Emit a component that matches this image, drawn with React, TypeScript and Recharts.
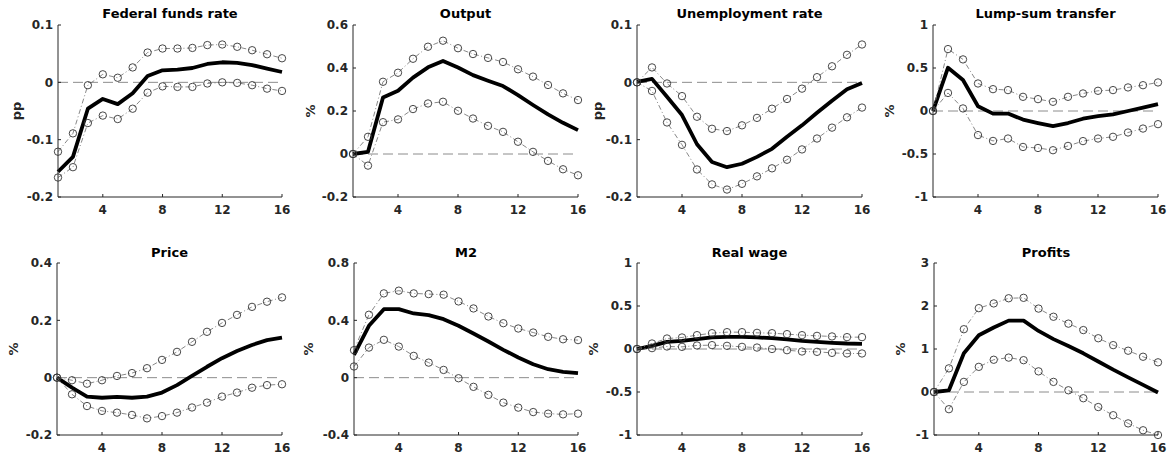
import React from 'react';
import { LineChart, Line, XAxis, YAxis, ReferenceLine } from 'recharts';

// horizon (quarters)
const quarters = [1, 2, 3, 4, 5, 6, 7, 8, 9, 10, 11, 12, 13, 14, 15, 16];
const xTicks = [4, 8, 12, 16];

// Federal funds rate
const ffrIrf = [-0.156, -0.13, -0.046, -0.029, -0.038, -0.019, 0.011, 0.021, 0.022, 0.025, 0.032, 0.035, 0.034, 0.03, 0.024, 0.018];
const ffrUpper = [-0.121, -0.089, -0.005, 0.014, 0.008, 0.026, 0.052, 0.059, 0.059, 0.06, 0.065, 0.066, 0.062, 0.056, 0.049, 0.042];
const ffrLower = [-0.166, -0.148, -0.071, -0.058, -0.064, -0.046, -0.018, -0.007, -0.008, -0.008, -0.002, 0.0, -0.001, -0.005, -0.011, -0.015];

// Output
const outIrf = [0, 0.01, 0.263, 0.294, 0.355, 0.403, 0.433, 0.402, 0.367, 0.341, 0.316, 0.274, 0.228, 0.184, 0.145, 0.111];
const outUpper = [0, 0.08, 0.336, 0.378, 0.443, 0.499, 0.527, 0.492, 0.465, 0.447, 0.428, 0.394, 0.36, 0.321, 0.282, 0.251];
const outLower = [0, -0.054, 0.148, 0.161, 0.209, 0.235, 0.243, 0.201, 0.165, 0.131, 0.103, 0.057, 0.01, -0.032, -0.071, -0.099];

// Unemployment rate
const unIrf = [0.001, 0.006, -0.025, -0.057, -0.108, -0.139, -0.148, -0.142, -0.13, -0.116, -0.095, -0.075, -0.053, -0.032, -0.012, -0.001];
const unUpper = [0, 0.026, -0.002, -0.024, -0.06, -0.081, -0.085, -0.075, -0.062, -0.046, -0.029, -0.011, 0.009, 0.028, 0.048, 0.066];
const unLower = [0, -0.015, -0.07, -0.109, -0.152, -0.178, -0.187, -0.177, -0.164, -0.15, -0.135, -0.117, -0.098, -0.079, -0.061, -0.044];

// Lump-sum transfer
const lstIrf = [0, 0.503, 0.36, 0.056, -0.03, -0.03, -0.1, -0.14, -0.177, -0.14, -0.09, -0.06, -0.04, 0, 0.04, 0.08];
const lstUpper = [0, 0.72, 0.6, 0.32, 0.254, 0.243, 0.165, 0.138, 0.107, 0.165, 0.204, 0.235, 0.243, 0.274, 0.3, 0.332];
const lstLower = [0, 0.21, 0.03, -0.28, -0.348, -0.32, -0.418, -0.43, -0.456, -0.406, -0.35, -0.32, -0.3, -0.25, -0.204, -0.153];

// Price
const priceIrf = [0, -0.035, -0.066, -0.07, -0.067, -0.07, -0.066, -0.052, -0.026, 0.006, 0.038, 0.068, 0.093, 0.114, 0.131, 0.14];
const priceUpper = [0, -0.009, -0.021, -0.009, 0.006, 0.016, 0.033, 0.062, 0.09, 0.125, 0.16, 0.191, 0.219, 0.247, 0.265, 0.28];
const priceLower = [0, -0.058, -0.099, -0.116, -0.122, -0.13, -0.142, -0.134, -0.122, -0.104, -0.087, -0.066, -0.052, -0.035, -0.026, -0.023];

// M2
const m2Irf = [0.159, 0.362, 0.478, 0.478, 0.448, 0.436, 0.408, 0.362, 0.308, 0.252, 0.194, 0.141, 0.094, 0.059, 0.041, 0.031];
const m2Upper = [0.192, 0.439, 0.588, 0.607, 0.588, 0.583, 0.579, 0.532, 0.483, 0.427, 0.38, 0.343, 0.315, 0.285, 0.268, 0.262];
const m2Lower = [0.078, 0.21, 0.264, 0.217, 0.152, 0.105, 0.054, -0.004, -0.064, -0.12, -0.174, -0.209, -0.24, -0.251, -0.256, -0.251];

// Real wage
const wageIrf = [0, 0.037, 0.083, 0.095, 0.115, 0.134, 0.142, 0.142, 0.134, 0.126, 0.111, 0.095, 0.083, 0.072, 0.064, 0.06];
const wageUpper = [0, 0.064, 0.122, 0.134, 0.161, 0.184, 0.196, 0.196, 0.188, 0.184, 0.173, 0.161, 0.153, 0.146, 0.138, 0.138];
const wageLower = [0, 0.01, 0.029, 0.025, 0.041, 0.045, 0.037, 0.025, 0.017, 0, -0.014, -0.029, -0.033, -0.045, -0.052, -0.052];

// Profits
const profIrf = [0, 0.04, 0.9, 1.32, 1.5, 1.66, 1.66, 1.42, 1.23, 1.07, 0.9, 0.71, 0.52, 0.34, 0.165, -0.01];
const profUpper = [0, 0.55, 1.46, 1.95, 2.06, 2.18, 2.19, 1.94, 1.75, 1.59, 1.44, 1.25, 1.09, 0.96, 0.82, 0.69];
const profLower = [0, -0.4, 0.235, 0.585, 0.75, 0.8, 0.74, 0.48, 0.235, 0.04, -0.145, -0.35, -0.54, -0.73, -0.89, -1.0];

const panels = [
  { title: 'Federal funds rate', unit: 'pp', irf: ffrIrf, upper: ffrUpper, lower: ffrLower, domain: [-0.2, 0.1], ticks: [-0.2, -0.1, 0, 0.1] },
  { title: 'Output', unit: '%', irf: outIrf, upper: outUpper, lower: outLower, domain: [-0.2, 0.6], ticks: [-0.2, 0, 0.2, 0.4, 0.6] },
  { title: 'Unemployment rate', unit: 'pp', irf: unIrf, upper: unUpper, lower: unLower, domain: [-0.2, 0.1], ticks: [-0.2, -0.1, 0, 0.1] },
  { title: 'Lump-sum transfer', unit: '%', irf: lstIrf, upper: lstUpper, lower: lstLower, domain: [-1, 1], ticks: [-1, -0.5, 0, 0.5, 1] },
  { title: 'Price', unit: '%', irf: priceIrf, upper: priceUpper, lower: priceLower, domain: [-0.2, 0.4], ticks: [-0.2, 0, 0.2, 0.4] },
  { title: 'M2', unit: '%', irf: m2Irf, upper: m2Upper, lower: m2Lower, domain: [-0.4, 0.8], ticks: [-0.4, 0, 0.4, 0.8] },
  { title: 'Real wage', unit: '%', irf: wageIrf, upper: wageUpper, lower: wageLower, domain: [-1, 1], ticks: [-1, -0.5, 0, 0.5, 1] },
  { title: 'Profits', unit: '%', irf: profIrf, upper: profUpper, lower: profLower, domain: [-1, 3], ticks: [-1, 0, 1, 2, 3] },
];

// plot-area boxes on the page, plus where the y label and title sit
const boxes = [
  { left: 58, top: 25, width: 224, height: 172, labelX: 16, titleGap: 18 },
  { left: 353, top: 25, width: 225, height: 172, labelX: 310, titleGap: 18 },
  { left: 637, top: 25, width: 225, height: 172, labelX: 597, titleGap: 18 },
  { left: 933, top: 25, width: 225, height: 172, labelX: 889, titleGap: 18 },
  { left: 57, top: 263, width: 225, height: 172, labelX: 13, titleGap: 17 },
  { left: 354, top: 263, width: 224, height: 172, labelX: 308, titleGap: 17 },
  { left: 637, top: 263, width: 225, height: 172, labelX: 593, titleGap: 17 },
  { left: 934, top: 263, width: 224, height: 172, labelX: 900, titleGap: 17 },
];

const FONT = '"DejaVu Sans", sans-serif';
const AXIS = '#262626';
const tickStyle = { fill: AXIS, fontSize: 12, fontWeight: 'bold', fontFamily: FONT };

const padL = 60;
const padT = 10;
const padR = 10;
const padB = 25;

const Marker = (props: any) => {
  const { cx, cy, index } = props;
  if (cx == null || cy == null) return <g key={index} />;
  return <circle key={index} cx={cx} cy={cy} r={3.7} fill="none" stroke="#333" strokeWidth={0.9} />;
};

const Panel = ({ p, box }: { p: any; box: any }) => {
  const data = quarters.map((q, i) => ({ q, irf: p.irf[i], upper: p.upper[i], lower: p.lower[i] }));
  return (
    <>
      <div
        style={{
          position: 'absolute',
          left: box.left,
          width: box.width,
          top: box.top - box.titleGap,
          textAlign: 'center',
          fontFamily: FONT,
          fontWeight: 'bold',
          fontSize: 13,
          lineHeight: '13px',
          color: '#000',
          whiteSpace: 'nowrap',
        }}
      >
        {p.title}
      </div>
      <div style={{ position: 'absolute', left: box.labelX, top: box.top + box.height / 2, width: 0, height: 0 }}>
        <div
          style={{
            position: 'absolute',
            left: 0,
            top: 0,
            transform: 'translate(-50%, -50%) rotate(-90deg)',
            fontFamily: FONT,
            fontWeight: 'bold',
            fontSize: 13,
            lineHeight: '13px',
            color: AXIS,
            whiteSpace: 'nowrap',
          }}
        >
          {p.unit}
        </div>
      </div>
      <div style={{ position: 'absolute', left: box.left - padL, top: box.top - padT }}>
        <LineChart
          width={box.width + padL + padR}
          height={box.height + padT + padB}
          data={data}
          margin={{ top: padT, right: padR, left: 0, bottom: 0 }}
        >
          <XAxis
            dataKey="q"
            type="number"
            domain={[1, 16]}
            ticks={xTicks}
            interval={0}
            height={padB}
            tickSize={-3}
            tickMargin={11}
            tick={tickStyle}
            axisLine={{ stroke: AXIS }}
            tickLine={{ stroke: AXIS }}
          />
          <YAxis
            type="number"
            domain={p.domain}
            ticks={p.ticks}
            interval={0}
            width={padL}
            tickSize={-3}
            tickMargin={8}
            tick={tickStyle}
            axisLine={{ stroke: AXIS }}
            tickLine={{ stroke: AXIS }}
          />
          <ReferenceLine y={0} stroke="#8c8c8c" strokeWidth={1} strokeDasharray="10 5" />
          <Line
            dataKey="irf"
            type="linear"
            stroke="#000"
            strokeWidth={3.8}
            strokeLinejoin="round"
            dot={false}
            activeDot={false}
            isAnimationActive={false}
          />
          <Line
            dataKey="upper"
            type="linear"
            stroke="#7a7a7a"
            strokeWidth={0.9}
            strokeDasharray="5 2.5 1 2.5"
            dot={Marker}
            activeDot={false}
            isAnimationActive={false}
          />
          <Line
            dataKey="lower"
            type="linear"
            stroke="#7a7a7a"
            strokeWidth={0.9}
            strokeDasharray="5 2.5 1 2.5"
            dot={Marker}
            activeDot={false}
            isAnimationActive={false}
          />
        </LineChart>
      </div>
    </>
  );
};

const App = () => {
  return (
    <div style={{ position: 'absolute', left: 0, top: 0, width: 1167, height: 462, background: '#fff', overflow: 'hidden' }}>
      {panels.map((p, i) => (
        <Panel key={p.title} p={p} box={boxes[i]} />
      ))}
    </div>
  );
};

export default App;
